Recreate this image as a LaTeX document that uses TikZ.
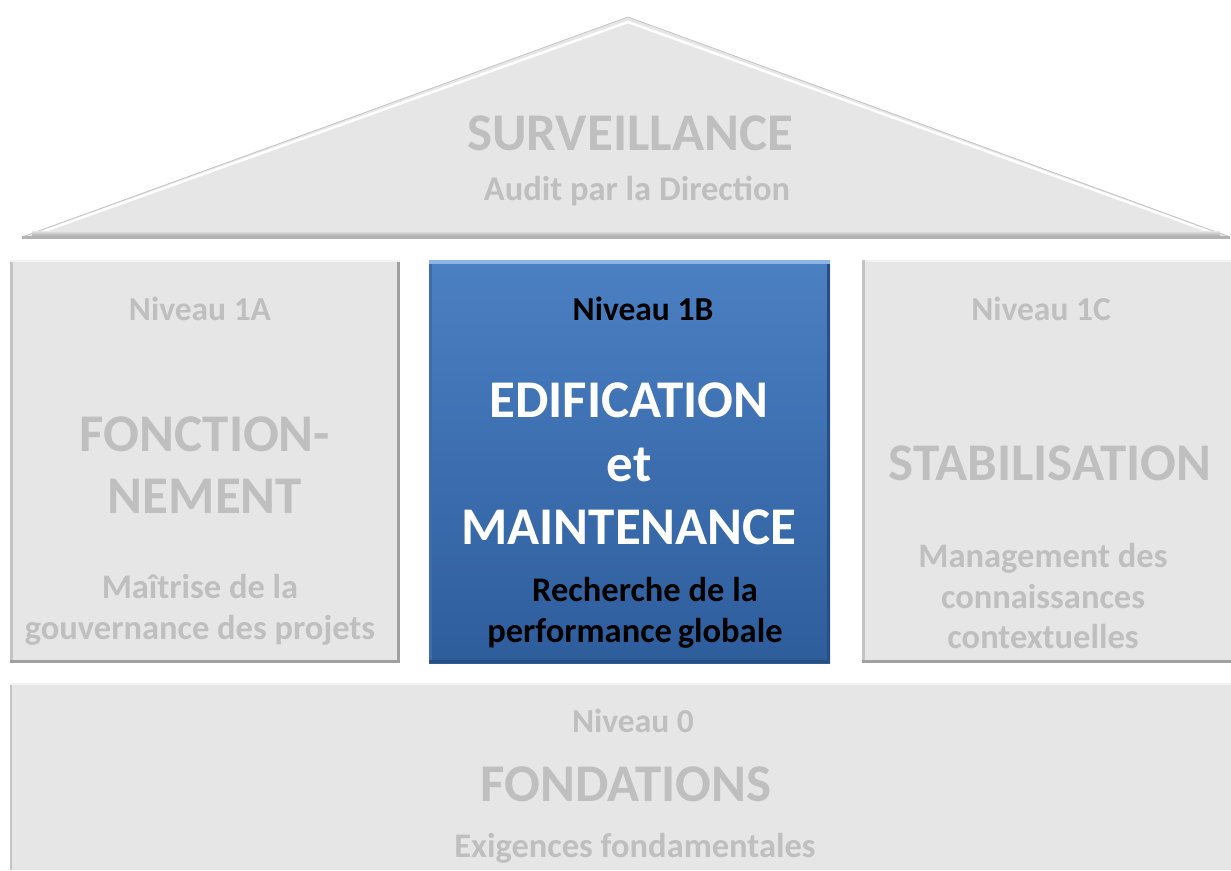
\documentclass[tikz,border=0pt]{standalone}
\usepackage{fontspec}
\setmainfont{Carlito}
\definecolor{boxgray}{HTML}{E6E6E6}
\definecolor{txtgray}{HTML}{BFBFBF}
\definecolor{edgedark}{HTML}{A0A0A0}
\definecolor{edgemid}{HTML}{C4C4C4}
\definecolor{edgelight}{HTML}{F2F2F2}
\definecolor{bluetop}{HTML}{4B80C3}
\definecolor{bluebot}{HTML}{2E5D9C}
\definecolor{blueedge}{HTML}{8CB6E6}
\definecolor{bluedark}{HTML}{284E82}
\tikzset{
  graybox/.style={fill=boxgray, draw=none, inner sep=0pt},
  bluebox/.style={top color=bluetop, bottom color=bluebot, draw=none, inner sep=0pt},
  big/.style={font=\fontsize{53}{63}\selectfont\bfseries, anchor=base, inner sep=0pt},
  mid/.style={font=\fontsize{33.5}{40}\selectfont\bfseries, anchor=base, inner sep=0pt},
  sub/.style={font=\fontsize{34.5}{41}\selectfont\bfseries, anchor=base, inner sep=0pt},
  gtxt/.style={text=txtgray},
}
\begin{document}
\begin{tikzpicture}[x=1pt,y=-1pt]
\useasboundingbox (0,0) rectangle (1231,870);
% roof
\coordinate (rl) at (22,237);
\coordinate (rt) at (628,17);
\coordinate (rr) at (1230,237);
\fill[boxgray] (rl) -- (rt) -- (rr) -- cycle;
\draw[white, line width=2.5pt, line join=miter] ([shift={(14,-3)}]rl) -- ([shift={(0,5)}]rt) -- ([shift={(-14,-3)}]rr);
\draw[edgemid, line width=0.8pt, line join=miter] (rl) -- (rt) -- (rr);
\shade[top color=boxgray, bottom color=edgedark] ([shift={(10,-6)}]rl) rectangle ([shift={(-10,0)}]rr);
\fill[edgedark!80] ([shift={(0,-1)}]rl) rectangle ([shift={(0,2)}]rr);
\node[big, gtxt] (surv) at (630,150) {SURVEILLANCE};
\node[sub, gtxt] (audit) at (637,200) {Audit par la Direction};
% left box
\node[graybox, minimum width=390pt, minimum height=403pt] (A) at (205,461.5) {};
\fill[edgemid] (A.north west) rectangle ([shift={(3,0)}]A.south west);
\fill[edgedark] ([shift={(-3,0)}]A.north east) rectangle (A.south east);
\fill[edgedark] ([shift={(0,-3)}]A.south west) rectangle (A.south east);
\fill[edgelight] (A.north west) rectangle ([shift={(0,2)}]A.north east);
\node[mid, gtxt] (A1) at (200,320) {Niveau 1A};
\node[big, gtxt] (A2) at (205,451) {FONCTION-};
\node[big, gtxt] (A3) at (205,513) {NEMENT};
\node[sub, gtxt] (A4) at (200,598) {Maîtrise de la};
\node[sub, gtxt] (A5) at (200,639) {gouvernance des projets};
% middle box
\node[bluebox, minimum width=401pt, minimum height=403pt] (B) at (629.5,461.5) {};
\fill[blueedge] (B.north west) rectangle ([shift={(0,4)}]B.north east);
\fill[bluetop!85!black] ([shift={(0,4)}]B.north west) rectangle ([shift={(3,0)}]B.south west);
\fill[bluedark] ([shift={(-3,4)}]B.north east) rectangle (B.south east);
\fill[bluedark] ([shift={(0,-3)}]B.south west) rectangle (B.south east);
\node[mid] (B1) at (643,320) {Niveau 1B};
\node[big, white] (B2) at (629,417) {EDIFICATION};
\node[big, white] (B3) at (629,481) {et};
\node[big, white] (B4) at (629,544) {MAINTENANCE};
\node[sub] (B5) at (645,601) {Recherche de la};
\node[sub] (B6) at (635,642) {performance\,globale};
% right box
\node[graybox, minimum width=370pt, minimum height=403pt] (C) at (1047,461.5) {};
\fill[edgemid] (C.north west) rectangle ([shift={(3,0)}]C.south west);
\fill[edgedark] ([shift={(0,-3)}]C.south west) rectangle (C.south east);
\fill[edgelight] ([shift={(3,0)}]C.north west) rectangle ([shift={(0,2)}]C.north east);
\node[mid, gtxt] (C1) at (1041,320) {Niveau 1C};
\node[big, gtxt] (C2) at (1050,480) {STABILISATION};
\node[sub, gtxt] (C3) at (1043,567) {Management des};
\node[sub, gtxt] (C4) at (1043,608) {connaissances};
\node[sub, gtxt] (C5) at (1043,648) {contextuelles};
% bottom box
\node[graybox, minimum width=1221pt, minimum height=187pt] (D) at (620.5,776.5) {};
\fill[edgelight] (D.north west) rectangle ([shift={(0,2)}]D.north east);
\fill[edgemid] ([shift={(0,2)}]D.north west) rectangle ([shift={(2,0)}]D.south west);
\node[mid, gtxt] (D1) at (633,732) {Niveau 0};
\node[big, gtxt] (D2) at (626,801) {FONDATIONS};
\node[sub, gtxt] (D3) at (635,857) {Exigences fondamentales};
\end{tikzpicture}
\end{document}
